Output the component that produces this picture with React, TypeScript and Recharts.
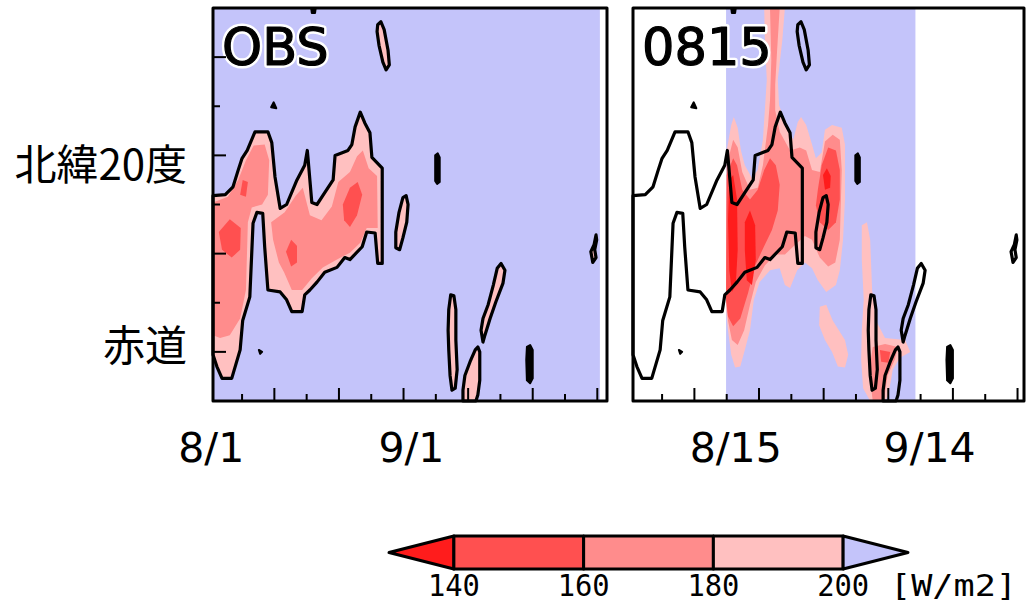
import React from 'react';
import { ScatterChart, Scatter, XAxis, YAxis, Label } from 'recharts';

type P = [number, number];

// ---------- axes ----------
const X_DOMAIN_OBS: [number, number] = [-0.5, 60.5];
const X_DOMAIN_FCST: [number, number] = [-0.5, 60];
const Y_DOMAIN: [number, number] = [-5, 35];
const X_TICKS_MAJOR = [9, 19, 29, 39, 49, 59];
const X_TICKS_MINOR = [4, 14, 24, 34, 44, 54];
const Y_TICKS_MAJOR = [0, 10, 20, 30];
const Y_TICKS_MINOR = [5, 15, 25];
const OBS_DATE_TICKS = [0, 31];
const OBS_DATE_LABELS = ['8/1', '9/1'];
const FCST_DATE_TICKS = [14, 44];
const FCST_DATE_LABELS = ['8/15', '9/14'];
const LAT_TICKS = [20, 0];
const LAT_LABELS = ['北緯20度', '赤道'];
const PANEL_TITLES = ['OBS', '0815'];
const OBS_DATA_RANGE: [number, number] = [-0.5, 59.4];
const FCST_DATA_RANGE: [number, number] = [13.9, 43.2];
const CBAR_LEVELS = [140, 160, 180, 200];
const CBAR_RANGE: [number, number] = [130, 210];
const CBAR_UNITS = '[W/m2]';

// ---------- colours ----------
const C_LT140 = '#ff1c1c';
const C_140 = '#ff5050';
const C_160 = '#ff8c8c';
const C_180 = '#ffc0c0';
const C_GT200 = '#c4c4fa';
const CBAR_COLORS = [C_LT140, C_140, C_160, C_180, C_GT200];

// ---------- OBS 200 W/m2 contours (day since 8/1, latitude) ----------
const OBS_BLOB: P[] = [
  [-0.5, 15.9], [1.4, 16.0], [2.6, 16.8], [3.4, 18.5], [4.0, 19.7], [4.8, 20.5], [6.0, 22.4], [8.0, 22.4],
  [8.6, 21.3], [9.1, 17.8], [9.9, 14.6], [10.9, 15.0], [12.5, 17.5], [13.7, 19.0], [14.1, 20.5], [14.2, 19.8],
  [14.8, 15.2], [15.6, 15.0], [16.8, 16.2], [18.1, 17.5], [18.4, 20.0], [20.4, 20.5], [21.0, 21.1], [21.5, 22.9],
  [22.3, 24.4], [23.0, 23.3], [23.8, 22.3], [24.1, 19.8], [25.7, 18.7], [25.7, 9.0], [25.0, 9.0], [24.6, 12.1],
  [23.3, 12.2], [22.6, 10.7], [20.7, 9.4], [19.9, 9.6], [18.7, 8.6], [16.8, 8.1], [15.6, 7.1], [14.5, 6.3],
  [13.7, 5.8], [13.3, 4.1], [11.7, 4.1], [10.9, 5.3], [9.9, 6.1], [8.0, 6.3], [7.5, 10.7], [7.2, 14.1],
  [6.3, 14.2], [5.7, 13.1], [5.2, 5.6], [4.1, 3.2], [3.7, 0.2], [2.4, -2.7], [0.9, -2.7], [0.1, -1.5], [-0.5, -0.3],
];
const OBS_S1: P[] = [[25.0, 33.3], [25.5, 33.6], [26.0, 32.8], [26.6, 30.7], [26.8, 29.2], [26.3, 28.7], [25.8, 29.5], [25.2, 31.2], [24.9, 32.6]];
const OBS_S4: P[] = [[28.9, 15.7], [29.4, 15.9], [29.7, 15.0], [29.5, 13.2], [28.9, 11.6], [28.4, 10.4], [27.8, 10.6], [27.8, 12.2], [28.3, 14.2]];
const OBS_S5: P[] = [[58.8, 11.9], [58.5, 10.9], [58.0, 10.2], [58.3, 9.1], [58.8, 9.6], [58.6, 10.4], [58.9, 11.4]];
const OBS_S6: P[] = [[43.5, 8.5], [44.1, 9.0], [44.7, 8.3], [44.4, 7.0], [43.3, 5.1], [42.4, 3.4], [41.6, 1.7], [41.3, 1.0], [41.0, 2.2], [41.3, 3.4], [42.1, 4.8], [42.9, 6.8]];
const OBS_S7: P[] = [[36.3, 5.8], [36.8, 5.7], [37.1, 4.3], [37.1, 1.2], [37.3, -1.8], [37.0, -3.7], [36.5, -3.9], [36.2, -2.4], [36.0, 0.2], [35.9, 2.2], [36.0, 4.3]];
const OBS_S8: P[] = [[40.5, 0.5], [40.8, 0.0], [40.8, -2.9], [40.5, -4.4], [40.2, -5.0], [38.2, -5.0], [38.2, -3.9], [38.5, -2.4], [39.3, -1.0], [40.1, 0.2]];
const OBS_K1: P[] = [[8.5, 24.9], [8.9, 25.4], [9.3, 24.8]];
const OBS_K2: P[] = [[33.9, 20.0], [34.3, 20.2], [34.6, 19.8], [34.6, 17.3], [34.2, 17.1], [33.9, 17.4]];
const OBS_K3: P[] = [[48.1, 0.5], [48.6, 0.7], [49.0, 0.2], [49.0, -2.7], [48.6, -3.2], [48.1, -2.9], [48.0, -0.8]];
const OBS_K4: P[] = [[6.6, 0.2], [7.1, 0.0], [6.8, -0.2]];
const OBS_K5: P[] = [[14.7, 35], [15.4, 35], [15.3, 34.5], [14.8, 34.5]];
const OBS_PINK_CONTOURS = [OBS_BLOB, OBS_S1, OBS_S4, OBS_S5, OBS_S6, OBS_S7, OBS_S8];
const OBS_BLACK_CONTOURS = [OBS_K1, OBS_K2, OBS_K3, OBS_K4, OBS_K5];

// OBS interior shading
const OBS_160: P[][] = [
  [[-0.5, 15.2], [1.8, 15.8], [3.4, 17.5], [4.6, 19.5], [5.8, 21.0], [7.5, 21.1], [8.2, 19.5], [8.0, 16.0], [7.1, 15.0], [5.5, 14.7], [4.9, 13.2], [4.6, 6.3], [3.7, 3.4], [2.1, 1.7], [0.6, 1.4], [-0.5, 1.7]],
  [[8.5, 13.2], [10.6, 14.2], [12.3, 15.9], [13.4, 16.7], [14.5, 13.9], [16.3, 13.4], [17.9, 14.8], [18.9, 17.3], [20.7, 18.3], [21.8, 19.9], [22.7, 20.5], [23.6, 18.7], [24.9, 17.9], [25.0, 12.6], [23.3, 12.6], [22.3, 11.1], [20.7, 10.1], [18.7, 9.4], [16.5, 8.6], [14.8, 7.5], [13.3, 6.3], [11.7, 6.3], [10.5, 8.1], [9.7, 9.1], [8.8, 11.4]],
];
const OBS_140: P[][] = [
  [[0.4, 12.2], [2.1, 13.5], [3.8, 12.6], [3.7, 10.4], [2.4, 9.6], [0.9, 10.4]],
  [[3.7, 16.0], [4.1, 17.5], [4.9, 17.3], [4.6, 15.8]],
  [[10.8, 10.2], [11.6, 11.4], [12.5, 10.8], [12.5, 9.1], [11.6, 8.7]],
  [[19.6, 15.0], [20.7, 16.7], [21.9, 17.3], [22.6, 16.0], [21.8, 13.9], [20.7, 12.7], [19.8, 13.4]],
];

// ---------- 0815 forecast shading ----------
const FCST_180: P[][] = [
  [[14.0, 20.5], [14.7, 23.1], [15.1, 23.9], [15.7, 22.8], [16.2, 20.5], [16.8, 19.0], [17.9, 17.7], [18.8, 18.5], [19.6, 21.6], [19.9, 24.6], [20.2, 27.7], [19.9, 31.7], [19.8, 35], [23.0, 35], [22.6, 31.7], [21.9, 27.7], [22.1, 25.1], [23.2, 23.1], [24.3, 21.6], [25.0, 23.4], [25.5, 23.9], [26.3, 23.1], [27.2, 21.1], [27.8, 19.7], [28.7, 20.3], [29.2, 22.6], [30.3, 23.1], [31.8, 22.8], [32.3, 21.1], [32.3, 15.5], [32.0, 11.4], [31.5, 8.3], [30.9, 6.8], [29.4, 6.1], [28.1, 7.3], [27.2, 8.5], [26.1, 9.1], [24.9, 8.3], [23.8, 6.5], [23.0, 6.8], [22.2, 8.5], [20.7, 8.3], [19.1, 7.1], [18.2, 5.3], [17.6, 2.2], [16.8, 0.2], [16.1, -1.5], [15.3, -1.6], [14.7, -0.3], [14.2, 2.2], [13.9, 4.3]],
  [[28.4, 4.6], [29.4, 4.8], [30.4, 3.2], [32.3, 1.2], [32.8, -0.3], [32.3, -1.6], [31.2, -1.5], [30.3, 0.0], [29.2, 1.2], [28.3, 2.7]],
  [[34.9, 12.9], [35.7, 13.2], [36.2, 11.4], [36.5, 6.3], [37.1, 3.2], [38.5, 1.4], [41.6, 1.2], [42.4, 0.0], [40.8, -0.6], [39.7, -1.8], [39.0, -4.4], [38.5, -5.0], [36.2, -5.0], [35.1, -3.7], [34.8, -0.8], [34.9, 2.2], [35.2, 5.3], [34.9, 9.4]],
];
const FCST_160: P[][] = [
  [[14.0, 19.0], [15.0, 21.6], [15.7, 20.8], [16.4, 18.3], [17.6, 16.5], [18.8, 16.7], [19.6, 19.0], [20.4, 23.1], [20.7, 25.6], [20.9, 29.7], [20.7, 35], [22.2, 35], [21.8, 30.7], [21.5, 27.2], [21.5, 24.6], [22.2, 22.4], [23.8, 20.5], [25.3, 20.8], [26.3, 20.5], [27.2, 18.5], [28.4, 18.3], [29.2, 21.4], [30.4, 22.1], [31.5, 21.6], [31.8, 18.5], [31.5, 11.4], [30.8, 9.1], [29.7, 8.7], [28.4, 9.6], [27.2, 11.4], [26.1, 11.8], [24.6, 10.9], [23.0, 9.9], [21.5, 9.9], [19.9, 8.8], [18.5, 7.1], [17.6, 4.8], [16.7, 2.2], [15.7, 0.7], [14.8, 1.2], [14.2, 3.2], [13.9, 5.3]],
  [[36.6, 0.5], [38.5, 0.8], [40.5, 0.5], [40.0, -0.8], [38.9, -2.4], [38.3, -5.0], [36.6, -5.0], [36.2, -2.9], [36.3, -0.8]],
];
const FCST_140: P[][] = [
  [[14.0, 18.0], [15.0, 19.7], [15.6, 19.0], [16.4, 16.5], [17.6, 15.5], [18.8, 16.5], [19.8, 18.5], [20.7, 19.7], [21.6, 19.0], [22.2, 17.0], [21.9, 14.4], [21.0, 12.4], [19.9, 10.9], [18.4, 8.8], [17.3, 6.0], [16.1, 3.4], [15.0, 2.6], [14.2, 3.6], [13.9, 5.3]],
  [[28.1, 16.5], [28.7, 19.0], [29.7, 20.8], [30.9, 20.5], [31.5, 18.5], [31.5, 15.5], [30.9, 13.2], [29.7, 12.4], [28.4, 13.2], [27.8, 14.9]],
  [[37.7, 0.2], [39.3, 0.0], [39.0, -1.1], [37.9, -1.0]],
];
const FCST_LT140: P[][] = [
  [[14.4, 17.5], [15.0, 18.0], [15.6, 15.5], [15.7, 10.4], [15.4, 6.8], [14.8, 6.1], [14.4, 8.3], [14.2, 13.4]],
  [[16.8, 13.2], [17.6, 14.4], [18.4, 12.9], [18.5, 9.4], [17.9, 6.8], [17.1, 7.3], [16.8, 10.4]],
  [[28.9, 18.0], [29.5, 18.7], [30.1, 17.9], [30.0, 16.7], [29.2, 16.5]],
];

// ---------- helpers ----------
const FONT = 'DejaVu Sans, Verdana, sans-serif';
const CJK = '"Noto Sans CJK JP", "Noto Sans CJK SC", sans-serif';

const rectPts = (xr: [number, number], yr: [number, number]): P[] => [
  [xr[0], yr[0]], [xr[1], yr[0]], [xr[1], yr[1]], [xr[0], yr[1]],
];

const NoShape = () => null;

const polyRenderer = (fill: string, stroke: string, sw: number) => (props: any) => {
  const pts = ((props && props.points) || []).filter(
    (p: any) => p && Number.isFinite(p.x) && Number.isFinite(p.y),
  );
  if (pts.length < 2) return <g />;
  const d = pts.map((p: any, i: number) => `${i === 0 ? 'M' : 'L'}${p.x.toFixed(2)},${p.y.toFixed(2)}`).join(' ') + ' Z';
  return <path d={d} fill={fill} stroke={stroke} strokeWidth={sw} strokeLinejoin="round" />;
};

const poly = (key: string, pts: P[], fill: string, stroke = 'none', sw = 0, xAxisId: any = 0, yAxisId: any = 0) => (
  <Scatter
    key={key}
    data={pts.map(([x, y]) => ({ x, y }))}
    xAxisId={xAxisId}
    yAxisId={yAxisId}
    isAnimationActive={false}
    shape={NoShape}
    line={polyRenderer(fill, stroke, sw)}
    legendType="none"
  />
);

// panel title anchored at the top-left corner of the plot
const titleShape = (title: string) => (props: any) => (
  <g>
    <text x={props.cx + 9} y={props.cy + 57} fontFamily={FONT} fontSize={51} fill="#fff" stroke="#fff" strokeWidth={6} strokeLinejoin="round">
      {title}
    </text>
    <text x={props.cx + 9} y={props.cy + 57} fontFamily={FONT} fontSize={51} fill="#000" stroke="#000" strokeWidth={1.2} strokeLinejoin="round">
      {title}
    </text>
  </g>
);

const title = (key: string, text: string, corner: P) => (
  <Scatter
    key={key}
    data={[{ x: corner[0], y: corner[1] }]}
    isAnimationActive={false}
    shape={titleShape(text)}
    legendType="none"
  />
);

const tickLen = (v: number, major: number[], minor: number[]) =>
  major.includes(v) ? 13 : minor.includes(v) ? 7 : 0;

const bottomTick = (labelTicks: number[], labels: string[], dx: number) => (props: any) => {
  const { x, y, payload } = props;
  const v = payload.value;
  const li = labelTicks.indexOf(v);
  const len = tickLen(v, X_TICKS_MAJOR, X_TICKS_MINOR);
  return (
    <g>
      {len > 0 && <line x1={x} y1={y} x2={x} y2={y - len} stroke="#000" strokeWidth={2} />}
      {li >= 0 && (
        <text x={x + dx} y={y + 61} textAnchor="middle" fontFamily={FONT} fontSize={41} fill="#000">
          {labels[li]}
        </text>
      )}
    </g>
  );
};

const topTick = (props: any) => {
  const { x, y, payload } = props;
  const len = tickLen(payload.value, X_TICKS_MAJOR, X_TICKS_MINOR);
  return len > 0 ? <line x1={x} y1={y} x2={x} y2={y + len} stroke="#000" strokeWidth={2} /> : <g />;
};

const LAT_LABEL_DY = [25, 9];
const leftTick = (withLabels: boolean) => (props: any) => {
  const { x, y, payload } = props;
  const v = payload.value;
  const len = tickLen(v, Y_TICKS_MAJOR, Y_TICKS_MINOR);
  const li = withLabels ? LAT_TICKS.indexOf(v) : -1;
  return (
    <g>
      {len > 0 && <line x1={x} y1={y} x2={x + len} y2={y} stroke="#000" strokeWidth={2} />}
      {li >= 0 && (
        <text x={x - 26} y={y + LAT_LABEL_DY[li]} textAnchor="end" fontFamily={CJK} fontSize={42} fill="#000">
          {LAT_LABELS[li]}
        </text>
      )}
    </g>
  );
};

const rightTick = (props: any) => {
  const { x, y, payload } = props;
  const len = tickLen(payload.value, Y_TICKS_MAJOR, Y_TICKS_MINOR);
  return len > 0 ? <line x1={x} y1={y} x2={x - len} y2={y} stroke="#000" strokeWidth={2} /> : <g />;
};

const uniq = (a: number[]) => Array.from(new Set(a)).sort((p, q) => p - q);
const Y_ALL_TICKS = uniq([...Y_TICKS_MAJOR, ...Y_TICKS_MINOR]);

const axes = (xDomain: [number, number], dateTicks: number[], dateLabels: string[], dx: number, leftWidth: number, withLat: boolean) => [
  <XAxis
    key="xb"
    xAxisId={0}
    type="number"
    dataKey="x"
    domain={xDomain}
    orientation="bottom"
    height={79}
    ticks={uniq([...X_TICKS_MAJOR, ...X_TICKS_MINOR, ...dateTicks])}
    interval={0}
    tickSize={0}
    tickMargin={0}
    axisLine={false}
    tickLine={false}
    tick={bottomTick(dateTicks, dateLabels, dx)}
    zIndex={1000}
  />,
  <XAxis
    key="xt"
    xAxisId="top"
    type="number"
    dataKey="x"
    domain={xDomain}
    orientation="top"
    height={0}
    ticks={uniq([...X_TICKS_MAJOR, ...X_TICKS_MINOR])}
    interval={0}
    tickSize={0}
    tickMargin={0}
    axisLine={false}
    tickLine={false}
    tick={topTick}
    zIndex={1000}
  />,
  <YAxis
    key="yl"
    yAxisId={0}
    type="number"
    dataKey="y"
    domain={Y_DOMAIN}
    orientation="left"
    width={leftWidth}
    ticks={Y_ALL_TICKS}
    interval={0}
    tickSize={0}
    tickMargin={0}
    axisLine={false}
    tickLine={false}
    tick={leftTick(withLat)}
    zIndex={1000}
  />,
  <YAxis
    key="yr"
    yAxisId="right"
    type="number"
    dataKey="y"
    domain={Y_DOMAIN}
    orientation="right"
    width={0}
    ticks={Y_ALL_TICKS}
    interval={0}
    tickSize={0}
    tickMargin={0}
    axisLine={false}
    tickLine={false}
    tick={rightTick}
    zIndex={1000}
  />,
];

const ObsPanel = () => (
  <ScatterChart width={620} height={480} margin={{ top: 8, right: 13, bottom: 0, left: 0 }}>
    {poly('bg', rectPts(OBS_DATA_RANGE, Y_DOMAIN), C_GT200)}
    {OBS_PINK_CONTOURS.map((c, i) => poly(`f${i}`, c, C_180))}
    {OBS_160.map((c, i) => poly(`m${i}`, c, C_160))}
    {OBS_140.map((c, i) => poly(`d${i}`, c, C_140))}
    {OBS_PINK_CONTOURS.map((c, i) => poly(`c${i}`, c, 'none', '#000', 3.2))}
    {OBS_BLACK_CONTOURS.map((c, i) => poly(`k${i}`, c, '#000', '#000', 2))}
    {title('title', PANEL_TITLES[0], [X_DOMAIN_OBS[0], Y_DOMAIN[1]])}
    {poly('frame', rectPts(X_DOMAIN_OBS, Y_DOMAIN), 'none', '#000', 3, 'top', 'right')}
    {axes(X_DOMAIN_OBS, OBS_DATE_TICKS, OBS_DATE_LABELS, -5, 213, true)}
  </ScatterChart>
);

const FcstPanel = () => (
  <ScatterChart width={409} height={480} margin={{ top: 8, right: 5, bottom: 0, left: 13 }}>
    {poly('bg', rectPts(FCST_DATA_RANGE, Y_DOMAIN), C_GT200)}
    {FCST_180.map((c, i) => poly(`f${i}`, c, C_180))}
    {FCST_160.map((c, i) => poly(`m${i}`, c, C_160))}
    {FCST_140.map((c, i) => poly(`d${i}`, c, C_140))}
    {FCST_LT140.map((c, i) => poly(`r${i}`, c, C_LT140))}
    {OBS_PINK_CONTOURS.map((c, i) => poly(`c${i}`, c, 'none', '#000', 3.2))}
    {OBS_BLACK_CONTOURS.map((c, i) => poly(`k${i}`, c, '#000', '#000', 2))}
    {title('title', PANEL_TITLES[1], [X_DOMAIN_FCST[0], Y_DOMAIN[1]])}
    {poly('frame', rectPts(X_DOMAIN_FCST, Y_DOMAIN), 'none', '#000', 3, 'top', 'right')}
    {axes(X_DOMAIN_FCST, FCST_DATE_TICKS, FCST_DATE_LABELS, 9, 0, false)}
  </ScatterChart>
);

// ---------- colour bar ----------
const cbarShapes = (): P[][] => {
  const shapes: P[][] = [];
  shapes.push([[CBAR_RANGE[0], 0.5], [CBAR_LEVELS[0], 1], [CBAR_LEVELS[0], 0]]);
  for (let i = 0; i < CBAR_LEVELS.length - 1; i++) {
    shapes.push(rectPts([CBAR_LEVELS[i], CBAR_LEVELS[i + 1]], [0, 1]));
  }
  const last = CBAR_LEVELS[CBAR_LEVELS.length - 1];
  shapes.push([[last, 1], [CBAR_RANGE[1], 0.5], [last, 0]]);
  return shapes;
};

const cbarTick = (props: any) => {
  const { x, y, payload } = props;
  return (
    <text x={x} y={y + 27} textAnchor="middle" fontFamily="DejaVu Sans Mono, monospace" fontSize={30} fill="#000" textLength={52} lengthAdjust="spacingAndGlyphs">
      {String(payload.value)}
    </text>
  );
};

const unitsContent = (props: any) => {
  const vb = props.viewBox || { x: 0, y: 0, width: 0 };
  return (
    <text x={vb.x + vb.width - 18} y={vb.y + 27} fontFamily="DejaVu Sans Mono, monospace" fontSize={30} fill="#000" textLength={127} lengthAdjust="spacingAndGlyphs">
      {CBAR_UNITS}
    </text>
  );
};

const ColorBar = () => (
  <ScatterChart width={649} height={82} margin={{ top: 16, right: 121, bottom: 0, left: 9 }}>
    {cbarShapes().map((s, i) => poly(`cb${i}`, s, CBAR_COLORS[i], '#000', 3))}
    <XAxis
      type="number"
      dataKey="x"
      domain={CBAR_RANGE}
      ticks={CBAR_LEVELS}
      interval={0}
      height={33}
      tickSize={0}
      tickMargin={0}
      axisLine={false}
      tickLine={false}
      tick={cbarTick}
      label={<Label content={unitsContent} />}
    />
    <YAxis type="number" dataKey="y" domain={[0, 1]} hide />
  </ScatterChart>
);

export default function App() {
  return (
    <div style={{ position: 'absolute', left: 0, top: 0, width: 1029, height: 602, background: '#fff', overflow: 'hidden', fontFamily: FONT }}>
      <div style={{ position: 'absolute', left: 0, top: 0 }}>
        <ObsPanel />
      </div>
      <div style={{ position: 'absolute', left: 620, top: 0 }}>
        <FcstPanel />
      </div>
      <div style={{ position: 'absolute', left: 380, top: 520 }}>
        <ColorBar />
      </div>
    </div>
  );
}
